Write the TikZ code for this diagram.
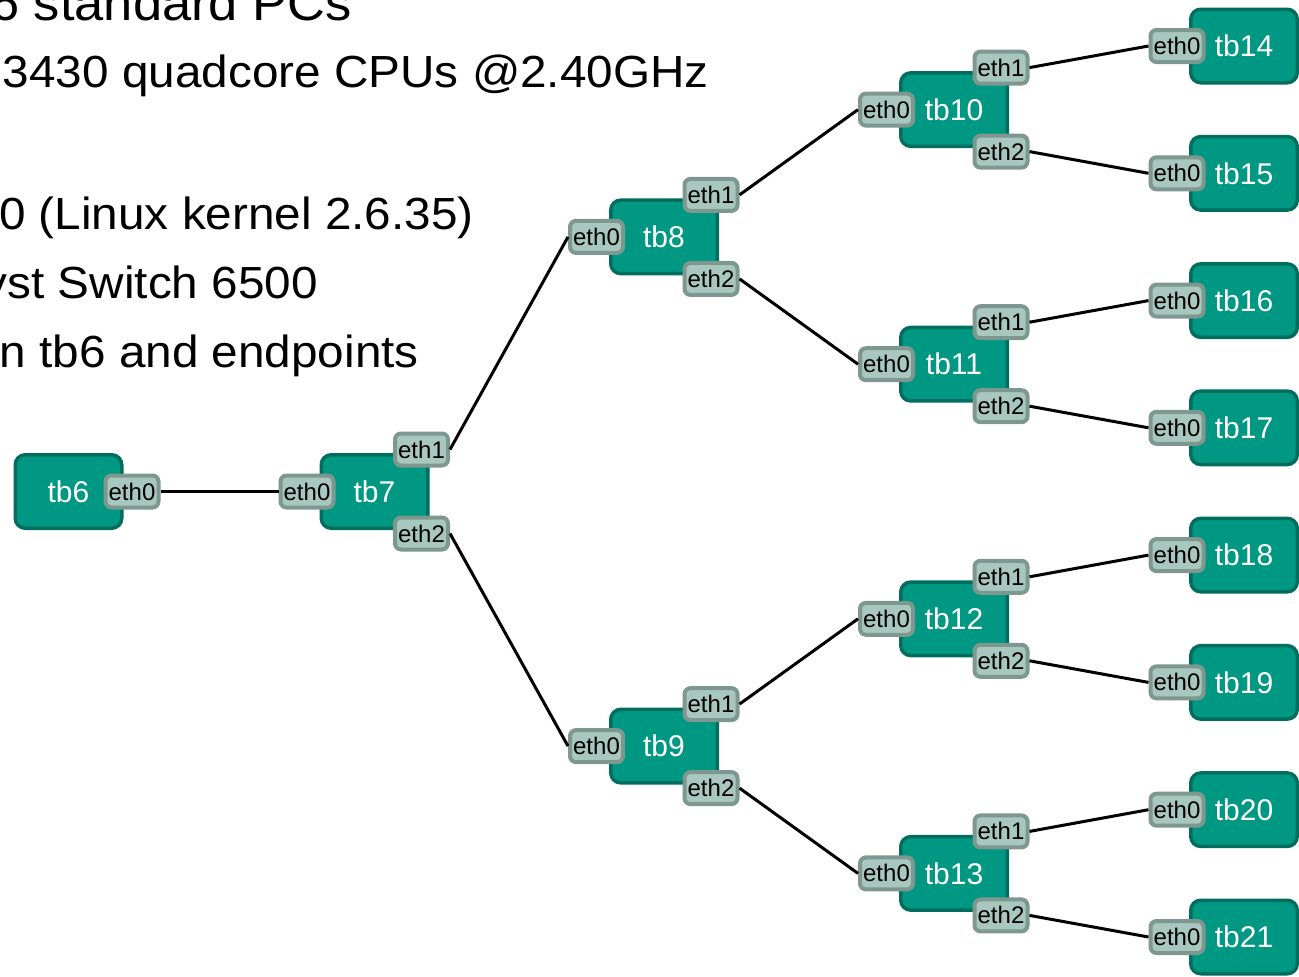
\documentclass[tikz,border=0pt]{standalone}
\usepackage{fontspec}
\setmainfont{Liberation Sans}
\newfontfamily\slidefont[FakeStretch=1.06]{Liberation Sans}

\definecolor{hostfill}{HTML}{009882}
\definecolor{hostedge}{HTML}{006E5E}
\definecolor{portfill}{HTML}{A8C8BF}
\definecolor{portedge}{HTML}{7E978F}

\tikzset{
  host/.style={draw=hostedge, fill=hostfill, line width=3.5pt, rounded corners=10pt,
    minimum width=106.5pt, minimum height=73.5pt, inner sep=0pt, text=white,
    font=\fontsize{30}{30}\selectfont},
  port/.style={draw=portedge, fill=portfill, line width=4pt, rounded corners=6pt,
    minimum width=53pt, minimum height=32pt, inner sep=0pt, text=black,
    font=\fontsize{24}{24}\selectfont},
  link/.style={line width=3pt, black},
  slideline/.style={anchor=base east, inner sep=0pt, text=black,
    font=\slidefont\fontsize{45}{45}\selectfont},
  slidehead/.style={slideline, font=\slidefont\fontsize{49.5}{49.5}\selectfont}
}

% a testbed host: box with eth0 on the left, eth1/eth2 on the right corners
\newcommand\routerhost[3]{%
  \node[host] (#1) at (#2,#3) {#1};
  \node[port] (#1-eth0) at ({#2-67.5},#3) {eth0};
  \node[port] (#1-eth1) at ({#2+47},{#3-42}) {eth1};
  \node[port] (#1-eth2) at ({#2+47},{#3+42}) {eth2};
}
% an endpoint host: box with a single eth0 on the left
\newcommand\leafhost[3]{%
  \node[host] (#1) at (#2,#3) {#1};
  \node[port] (#1-eth0) at ({#2-67},#3) {eth0};
}

\begin{document}
\begin{tikzpicture}[x=1pt,y=-1pt]
\useasboundingbox (0,0) rectangle (1299,977);
\clip (0,0) rectangle (1299,977);

% slide text
\node[slidehead] (t1) at (352,20) {6 standard PCs};
\node[slideline] (t2) at (709,87) {3430 quadcore CPUs @2.40GHz};
\node[slideline] (t4) at (474,229) {0 (Linux kernel 2.6.35)};
\node[slideline] (t5) at (318,298) {yst Switch 6500};
\node[slideline] (t6) at (419,367) {n tb6 and endpoints};

% source host
\node[host] (tb6) at (68.5,491.5) {tb6};
\node[port] (tb6-eth0) at (132,491.5) {eth0};

% tree of hosts
\routerhost{tb7}{374.5}{491.5}
\routerhost{tb8}{664}{236.9}
\routerhost{tb9}{664}{746.1}
\routerhost{tb10}{954}{109.6}
\routerhost{tb11}{954}{364.2}
\routerhost{tb12}{954}{618.8}
\routerhost{tb13}{954}{873.4}
\leafhost{tb14}{1244}{46}
\leafhost{tb15}{1244}{173.3}
\leafhost{tb16}{1244}{300.6}
\leafhost{tb17}{1244}{427.8}
\leafhost{tb18}{1244}{555.1}
\leafhost{tb19}{1244}{682.4}
\leafhost{tb20}{1244}{809.7}
\leafhost{tb21}{1244}{937}

% links
\draw[link] (tb6-eth0.east) -- (tb7-eth0.west);
\draw[link] (tb7-eth1.east) -- (tb8-eth0.west);
\draw[link] (tb7-eth2.east) -- (tb9-eth0.west);
\draw[link] (tb8-eth1.east) -- (tb10-eth0.west);
\draw[link] (tb8-eth2.east) -- (tb11-eth0.west);
\draw[link] (tb9-eth1.east) -- (tb12-eth0.west);
\draw[link] (tb9-eth2.east) -- (tb13-eth0.west);
\draw[link] (tb10-eth1.east) -- (tb14-eth0.west);
\draw[link] (tb10-eth2.east) -- (tb15-eth0.west);
\draw[link] (tb11-eth1.east) -- (tb16-eth0.west);
\draw[link] (tb11-eth2.east) -- (tb17-eth0.west);
\draw[link] (tb12-eth1.east) -- (tb18-eth0.west);
\draw[link] (tb12-eth2.east) -- (tb19-eth0.west);
\draw[link] (tb13-eth1.east) -- (tb20-eth0.west);
\draw[link] (tb13-eth2.east) -- (tb21-eth0.west);
\end{tikzpicture}
\end{document}
